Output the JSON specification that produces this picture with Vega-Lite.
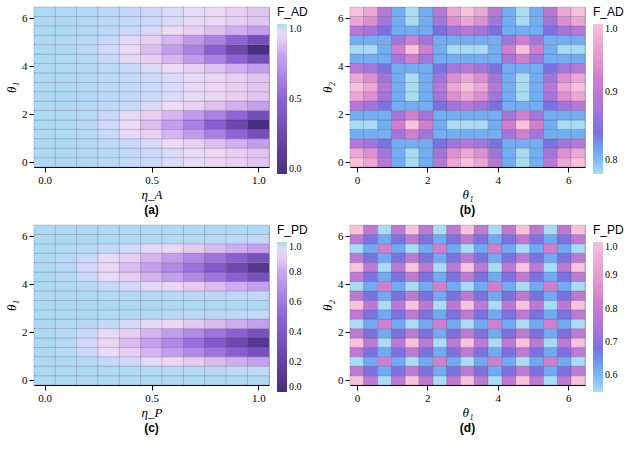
{
"$schema": "https://vega.github.io/schema/vega-lite/v6.json",
"background": "white",
"padding": 5,
"columns": 2,
"spacing": {"row": 6, "column": 12},
"datasets": {
"eta": [
{"h":0,"t":0,"a":1,"c":1},{"h":0,"t":0.39,"a":1,"c":1},{"h":0,"t":0.79,"a":1,"c":1},{"h":0,"t":1.18,"a":1,"c":1},{"h":0,"t":1.57,"a":1,"c":1},{"h":0,"t":1.96,"a":1,"c":1},{"h":0,"t":2.36,"a":1,"c":1},{"h":0,"t":2.75,"a":1,"c":1},{"h":0,"t":3.14,"a":1,"c":1},{"h":0,"t":3.53,"a":1,"c":1},{"h":0,"t":3.93,"a":1,"c":1},{"h":0,"t":4.32,"a":1,"c":1},{"h":0,"t":4.71,"a":1,"c":1},{"h":0,"t":5.11,"a":1,"c":1},{"h":0,"t":5.5,"a":1,"c":1},{"h":0,"t":5.89,"a":1,"c":1},{"h":0,"t":6.28,"a":1,"c":1},
{"h":0.1,"t":0,"a":0.999,"c":1},{"h":0.1,"t":0.39,"a":0.999,"c":1},{"h":0.1,"t":0.79,"a":0.999,"c":0.998},{"h":0.1,"t":1.18,"a":0.998,"c":0.993},{"h":0.1,"t":1.57,"a":0.998,"c":0.991},{"h":0.1,"t":1.96,"a":0.998,"c":0.993},{"h":0.1,"t":2.36,"a":0.999,"c":0.998},{"h":0.1,"t":2.75,"a":0.999,"c":1},{"h":0.1,"t":3.14,"a":0.999,"c":1},{"h":0.1,"t":3.53,"a":0.999,"c":1},{"h":0.1,"t":3.93,"a":0.999,"c":0.998},{"h":0.1,"t":4.32,"a":0.998,"c":0.993},{"h":0.1,"t":4.71,"a":0.998,"c":0.991},{"h":0.1,"t":5.11,"a":0.998,"c":0.993},{"h":0.1,"t":5.5,"a":0.999,"c":0.998},{"h":0.1,"t":5.89,"a":0.999,"c":1},{"h":0.1,"t":6.28,"a":0.999,"c":1},
{"h":0.2,"t":0,"a":0.995,"c":1},{"h":0.2,"t":0.39,"a":0.995,"c":0.999},{"h":0.2,"t":0.79,"a":0.994,"c":0.991},{"h":0.2,"t":1.18,"a":0.991,"c":0.974},{"h":0.2,"t":1.57,"a":0.988,"c":0.964},{"h":0.2,"t":1.96,"a":0.991,"c":0.974},{"h":0.2,"t":2.36,"a":0.994,"c":0.991},{"h":0.2,"t":2.75,"a":0.995,"c":0.999},{"h":0.2,"t":3.14,"a":0.995,"c":1},{"h":0.2,"t":3.53,"a":0.995,"c":0.999},{"h":0.2,"t":3.93,"a":0.994,"c":0.991},{"h":0.2,"t":4.32,"a":0.991,"c":0.974},{"h":0.2,"t":4.71,"a":0.988,"c":0.964},{"h":0.2,"t":5.11,"a":0.991,"c":0.974},{"h":0.2,"t":5.5,"a":0.994,"c":0.991},{"h":0.2,"t":5.89,"a":0.995,"c":0.999},{"h":0.2,"t":6.28,"a":0.995,"c":1},
{"h":0.3,"t":0,"a":0.989,"c":1},{"h":0.3,"t":0.39,"a":0.989,"c":0.998},{"h":0.3,"t":0.79,"a":0.986,"c":0.98},{"h":0.3,"t":1.18,"a":0.974,"c":0.941},{"h":0.3,"t":1.57,"a":0.965,"c":0.919},{"h":0.3,"t":1.96,"a":0.974,"c":0.941},{"h":0.3,"t":2.36,"a":0.986,"c":0.98},{"h":0.3,"t":2.75,"a":0.989,"c":0.998},{"h":0.3,"t":3.14,"a":0.989,"c":1},{"h":0.3,"t":3.53,"a":0.989,"c":0.998},{"h":0.3,"t":3.93,"a":0.986,"c":0.98},{"h":0.3,"t":4.32,"a":0.974,"c":0.941},{"h":0.3,"t":4.71,"a":0.965,"c":0.919},{"h":0.3,"t":5.11,"a":0.974,"c":0.941},{"h":0.3,"t":5.5,"a":0.986,"c":0.98},{"h":0.3,"t":5.89,"a":0.989,"c":0.998},{"h":0.3,"t":6.28,"a":0.989,"c":1},
{"h":0.4,"t":0,"a":0.981,"c":1},{"h":0.4,"t":0.39,"a":0.981,"c":0.997},{"h":0.4,"t":0.79,"a":0.974,"c":0.964},{"h":0.4,"t":1.18,"a":0.946,"c":0.895},{"h":0.4,"t":1.57,"a":0.925,"c":0.856},{"h":0.4,"t":1.96,"a":0.946,"c":0.895},{"h":0.4,"t":2.36,"a":0.974,"c":0.964},{"h":0.4,"t":2.75,"a":0.981,"c":0.997},{"h":0.4,"t":3.14,"a":0.981,"c":1},{"h":0.4,"t":3.53,"a":0.981,"c":0.997},{"h":0.4,"t":3.93,"a":0.974,"c":0.964},{"h":0.4,"t":4.32,"a":0.946,"c":0.895},{"h":0.4,"t":4.71,"a":0.925,"c":0.856},{"h":0.4,"t":5.11,"a":0.946,"c":0.895},{"h":0.4,"t":5.5,"a":0.974,"c":0.964},{"h":0.4,"t":5.89,"a":0.981,"c":0.997},{"h":0.4,"t":6.28,"a":0.981,"c":1},
{"h":0.5,"t":0,"a":0.97,"c":1},{"h":0.5,"t":0.39,"a":0.97,"c":0.995},{"h":0.5,"t":0.79,"a":0.956,"c":0.944},{"h":0.5,"t":1.18,"a":0.902,"c":0.836},{"h":0.5,"t":1.57,"a":0.86,"c":0.775},{"h":0.5,"t":1.96,"a":0.902,"c":0.836},{"h":0.5,"t":2.36,"a":0.956,"c":0.944},{"h":0.5,"t":2.75,"a":0.97,"c":0.995},{"h":0.5,"t":3.14,"a":0.97,"c":1},{"h":0.5,"t":3.53,"a":0.97,"c":0.995},{"h":0.5,"t":3.93,"a":0.956,"c":0.944},{"h":0.5,"t":4.32,"a":0.902,"c":0.836},{"h":0.5,"t":4.71,"a":0.86,"c":0.775},{"h":0.5,"t":5.11,"a":0.902,"c":0.836},{"h":0.5,"t":5.5,"a":0.956,"c":0.944},{"h":0.5,"t":5.89,"a":0.97,"c":0.995},{"h":0.5,"t":6.28,"a":0.97,"c":1},
{"h":0.6,"t":0,"a":0.957,"c":1},{"h":0.6,"t":0.39,"a":0.956,"c":0.993},{"h":0.6,"t":0.79,"a":0.933,"c":0.919},{"h":0.6,"t":1.18,"a":0.839,"c":0.764},{"h":0.6,"t":1.57,"a":0.767,"c":0.676},{"h":0.6,"t":1.96,"a":0.839,"c":0.764},{"h":0.6,"t":2.36,"a":0.933,"c":0.919},{"h":0.6,"t":2.75,"a":0.956,"c":0.993},{"h":0.6,"t":3.14,"a":0.957,"c":1},{"h":0.6,"t":3.53,"a":0.956,"c":0.993},{"h":0.6,"t":3.93,"a":0.933,"c":0.919},{"h":0.6,"t":4.32,"a":0.839,"c":0.764},{"h":0.6,"t":4.71,"a":0.767,"c":0.676},{"h":0.6,"t":5.11,"a":0.839,"c":0.764},{"h":0.6,"t":5.5,"a":0.933,"c":0.919},{"h":0.6,"t":5.89,"a":0.956,"c":0.993},{"h":0.6,"t":6.28,"a":0.957,"c":1},
{"h":0.7,"t":0,"a":0.941,"c":1},{"h":0.7,"t":0.39,"a":0.94,"c":0.991},{"h":0.7,"t":0.79,"a":0.904,"c":0.89},{"h":0.7,"t":1.18,"a":0.754,"c":0.679},{"h":0.7,"t":1.57,"a":0.639,"c":0.559},{"h":0.7,"t":1.96,"a":0.754,"c":0.679},{"h":0.7,"t":2.36,"a":0.904,"c":0.89},{"h":0.7,"t":2.75,"a":0.94,"c":0.991},{"h":0.7,"t":3.14,"a":0.941,"c":1},{"h":0.7,"t":3.53,"a":0.94,"c":0.991},{"h":0.7,"t":3.93,"a":0.904,"c":0.89},{"h":0.7,"t":4.32,"a":0.754,"c":0.679},{"h":0.7,"t":4.71,"a":0.639,"c":0.559},{"h":0.7,"t":5.11,"a":0.754,"c":0.679},{"h":0.7,"t":5.5,"a":0.904,"c":0.89},{"h":0.7,"t":5.89,"a":0.94,"c":0.991},{"h":0.7,"t":6.28,"a":0.941,"c":1},
{"h":0.8,"t":0,"a":0.923,"c":1},{"h":0.8,"t":0.39,"a":0.922,"c":0.988},{"h":0.8,"t":0.79,"a":0.867,"c":0.856},{"h":0.8,"t":1.18,"a":0.643,"c":0.58},{"h":0.8,"t":1.57,"a":0.473,"c":0.424},{"h":0.8,"t":1.96,"a":0.643,"c":0.58},{"h":0.8,"t":2.36,"a":0.867,"c":0.856},{"h":0.8,"t":2.75,"a":0.922,"c":0.988},{"h":0.8,"t":3.14,"a":0.923,"c":1},{"h":0.8,"t":3.53,"a":0.922,"c":0.988},{"h":0.8,"t":3.93,"a":0.867,"c":0.856},{"h":0.8,"t":4.32,"a":0.643,"c":0.58},{"h":0.8,"t":4.71,"a":0.473,"c":0.424},{"h":0.8,"t":5.11,"a":0.643,"c":0.58},{"h":0.8,"t":5.5,"a":0.867,"c":0.856},{"h":0.8,"t":5.89,"a":0.922,"c":0.988},{"h":0.8,"t":6.28,"a":0.923,"c":1},
{"h":0.9,"t":0,"a":0.903,"c":1},{"h":0.9,"t":0.39,"a":0.901,"c":0.985},{"h":0.9,"t":0.79,"a":0.823,"c":0.818},{"h":0.9,"t":1.18,"a":0.504,"c":0.469},{"h":0.9,"t":1.57,"a":0.261,"c":0.271},{"h":0.9,"t":1.96,"a":0.504,"c":0.469},{"h":0.9,"t":2.36,"a":0.823,"c":0.818},{"h":0.9,"t":2.75,"a":0.901,"c":0.985},{"h":0.9,"t":3.14,"a":0.903,"c":1},{"h":0.9,"t":3.53,"a":0.901,"c":0.985},{"h":0.9,"t":3.93,"a":0.823,"c":0.818},{"h":0.9,"t":4.32,"a":0.504,"c":0.469},{"h":0.9,"t":4.71,"a":0.261,"c":0.271},{"h":0.9,"t":5.11,"a":0.504,"c":0.469},{"h":0.9,"t":5.5,"a":0.823,"c":0.818},{"h":0.9,"t":5.89,"a":0.901,"c":0.985},{"h":0.9,"t":6.28,"a":0.903,"c":1},
{"h":1,"t":0,"a":0.88,"c":1},{"h":1,"t":0.39,"a":0.877,"c":0.981},{"h":1,"t":0.79,"a":0.77,"c":0.775},{"h":1,"t":1.18,"a":0.333,"c":0.344},{"h":1,"t":1.57,"a":0,"c":0.1},{"h":1,"t":1.96,"a":0.333,"c":0.344},{"h":1,"t":2.36,"a":0.77,"c":0.775},{"h":1,"t":2.75,"a":0.877,"c":0.981},{"h":1,"t":3.14,"a":0.88,"c":1},{"h":1,"t":3.53,"a":0.877,"c":0.981},{"h":1,"t":3.93,"a":0.77,"c":0.775},{"h":1,"t":4.32,"a":0.333,"c":0.344},{"h":1,"t":4.71,"a":0,"c":0.1},{"h":1,"t":5.11,"a":0.333,"c":0.344},{"h":1,"t":5.5,"a":0.77,"c":0.775},{"h":1,"t":5.89,"a":0.877,"c":0.981},{"h":1,"t":6.28,"a":0.88,"c":1}
],
"theta": [
{"x":0,"y":0,"b":1,"d":1},{"x":0.39,"y":0,"b":0.97,"d":0.78},{"x":0.79,"y":0,"b":0.89,"d":0.55},{"x":1.18,"y":0,"b":0.81,"d":0.78},{"x":1.57,"y":0,"b":0.78,"d":1},{"x":1.96,"y":0,"b":0.81,"d":0.78},{"x":2.36,"y":0,"b":0.89,"d":0.55},{"x":2.75,"y":0,"b":0.97,"d":0.78},{"x":3.14,"y":0,"b":1,"d":1},{"x":3.53,"y":0,"b":0.97,"d":0.78},{"x":3.93,"y":0,"b":0.89,"d":0.55},{"x":4.32,"y":0,"b":0.81,"d":0.78},{"x":4.71,"y":0,"b":0.78,"d":1},{"x":5.11,"y":0,"b":0.81,"d":0.78},{"x":5.5,"y":0,"b":0.89,"d":0.55},{"x":5.89,"y":0,"b":0.97,"d":0.78},{"x":6.28,"y":0,"b":1,"d":1},
{"x":0,"y":0.39,"b":0.97,"d":0.78},{"x":0.39,"y":0.39,"b":0.94,"d":0.68},{"x":0.79,"y":0.39,"b":0.87,"d":0.62},{"x":1.18,"y":0.39,"b":0.81,"d":0.68},{"x":1.57,"y":0.39,"b":0.78,"d":0.78},{"x":1.96,"y":0.39,"b":0.81,"d":0.68},{"x":2.36,"y":0.39,"b":0.87,"d":0.62},{"x":2.75,"y":0.39,"b":0.94,"d":0.68},{"x":3.14,"y":0.39,"b":0.97,"d":0.78},{"x":3.53,"y":0.39,"b":0.94,"d":0.68},{"x":3.93,"y":0.39,"b":0.87,"d":0.62},{"x":4.32,"y":0.39,"b":0.81,"d":0.68},{"x":4.71,"y":0.39,"b":0.78,"d":0.78},{"x":5.11,"y":0.39,"b":0.81,"d":0.68},{"x":5.5,"y":0.39,"b":0.87,"d":0.62},{"x":5.89,"y":0.39,"b":0.94,"d":0.68},{"x":6.28,"y":0.39,"b":0.97,"d":0.78},
{"x":0,"y":0.79,"b":0.89,"d":0.55},{"x":0.39,"y":0.79,"b":0.87,"d":0.62},{"x":0.79,"y":0.79,"b":0.84,"d":0.82},{"x":1.18,"y":0.79,"b":0.81,"d":0.62},{"x":1.57,"y":0.79,"b":0.81,"d":0.55},{"x":1.96,"y":0.79,"b":0.81,"d":0.62},{"x":2.36,"y":0.79,"b":0.84,"d":0.82},{"x":2.75,"y":0.79,"b":0.87,"d":0.62},{"x":3.14,"y":0.79,"b":0.89,"d":0.55},{"x":3.53,"y":0.79,"b":0.87,"d":0.62},{"x":3.93,"y":0.79,"b":0.84,"d":0.82},{"x":4.32,"y":0.79,"b":0.81,"d":0.62},{"x":4.71,"y":0.79,"b":0.81,"d":0.55},{"x":5.11,"y":0.79,"b":0.81,"d":0.62},{"x":5.5,"y":0.79,"b":0.84,"d":0.82},{"x":5.89,"y":0.79,"b":0.87,"d":0.62},{"x":6.28,"y":0.79,"b":0.89,"d":0.55},
{"x":0,"y":1.18,"b":0.81,"d":0.78},{"x":0.39,"y":1.18,"b":0.81,"d":0.68},{"x":0.79,"y":1.18,"b":0.81,"d":0.62},{"x":1.18,"y":1.18,"b":0.87,"d":0.68},{"x":1.57,"y":1.18,"b":0.92,"d":0.78},{"x":1.96,"y":1.18,"b":0.87,"d":0.68},{"x":2.36,"y":1.18,"b":0.81,"d":0.62},{"x":2.75,"y":1.18,"b":0.81,"d":0.68},{"x":3.14,"y":1.18,"b":0.81,"d":0.78},{"x":3.53,"y":1.18,"b":0.81,"d":0.68},{"x":3.93,"y":1.18,"b":0.81,"d":0.62},{"x":4.32,"y":1.18,"b":0.87,"d":0.68},{"x":4.71,"y":1.18,"b":0.92,"d":0.78},{"x":5.11,"y":1.18,"b":0.87,"d":0.68},{"x":5.5,"y":1.18,"b":0.81,"d":0.62},{"x":5.89,"y":1.18,"b":0.81,"d":0.68},{"x":6.28,"y":1.18,"b":0.81,"d":0.78},
{"x":0,"y":1.57,"b":0.78,"d":1},{"x":0.39,"y":1.57,"b":0.78,"d":0.78},{"x":0.79,"y":1.57,"b":0.81,"d":0.55},{"x":1.18,"y":1.57,"b":0.92,"d":0.78},{"x":1.57,"y":1.57,"b":1,"d":1},{"x":1.96,"y":1.57,"b":0.92,"d":0.78},{"x":2.36,"y":1.57,"b":0.81,"d":0.55},{"x":2.75,"y":1.57,"b":0.78,"d":0.78},{"x":3.14,"y":1.57,"b":0.78,"d":1},{"x":3.53,"y":1.57,"b":0.78,"d":0.78},{"x":3.93,"y":1.57,"b":0.81,"d":0.55},{"x":4.32,"y":1.57,"b":0.92,"d":0.78},{"x":4.71,"y":1.57,"b":1,"d":1},{"x":5.11,"y":1.57,"b":0.92,"d":0.78},{"x":5.5,"y":1.57,"b":0.81,"d":0.55},{"x":5.89,"y":1.57,"b":0.78,"d":0.78},{"x":6.28,"y":1.57,"b":0.78,"d":1},
{"x":0,"y":1.96,"b":0.81,"d":0.78},{"x":0.39,"y":1.96,"b":0.81,"d":0.68},{"x":0.79,"y":1.96,"b":0.81,"d":0.62},{"x":1.18,"y":1.96,"b":0.87,"d":0.68},{"x":1.57,"y":1.96,"b":0.92,"d":0.78},{"x":1.96,"y":1.96,"b":0.87,"d":0.68},{"x":2.36,"y":1.96,"b":0.81,"d":0.62},{"x":2.75,"y":1.96,"b":0.81,"d":0.68},{"x":3.14,"y":1.96,"b":0.81,"d":0.78},{"x":3.53,"y":1.96,"b":0.81,"d":0.68},{"x":3.93,"y":1.96,"b":0.81,"d":0.62},{"x":4.32,"y":1.96,"b":0.87,"d":0.68},{"x":4.71,"y":1.96,"b":0.92,"d":0.78},{"x":5.11,"y":1.96,"b":0.87,"d":0.68},{"x":5.5,"y":1.96,"b":0.81,"d":0.62},{"x":5.89,"y":1.96,"b":0.81,"d":0.68},{"x":6.28,"y":1.96,"b":0.81,"d":0.78},
{"x":0,"y":2.36,"b":0.89,"d":0.55},{"x":0.39,"y":2.36,"b":0.87,"d":0.62},{"x":0.79,"y":2.36,"b":0.84,"d":0.82},{"x":1.18,"y":2.36,"b":0.81,"d":0.62},{"x":1.57,"y":2.36,"b":0.81,"d":0.55},{"x":1.96,"y":2.36,"b":0.81,"d":0.62},{"x":2.36,"y":2.36,"b":0.84,"d":0.82},{"x":2.75,"y":2.36,"b":0.87,"d":0.62},{"x":3.14,"y":2.36,"b":0.89,"d":0.55},{"x":3.53,"y":2.36,"b":0.87,"d":0.62},{"x":3.93,"y":2.36,"b":0.84,"d":0.82},{"x":4.32,"y":2.36,"b":0.81,"d":0.62},{"x":4.71,"y":2.36,"b":0.81,"d":0.55},{"x":5.11,"y":2.36,"b":0.81,"d":0.62},{"x":5.5,"y":2.36,"b":0.84,"d":0.82},{"x":5.89,"y":2.36,"b":0.87,"d":0.62},{"x":6.28,"y":2.36,"b":0.89,"d":0.55},
{"x":0,"y":2.75,"b":0.97,"d":0.78},{"x":0.39,"y":2.75,"b":0.94,"d":0.68},{"x":0.79,"y":2.75,"b":0.87,"d":0.62},{"x":1.18,"y":2.75,"b":0.81,"d":0.68},{"x":1.57,"y":2.75,"b":0.78,"d":0.78},{"x":1.96,"y":2.75,"b":0.81,"d":0.68},{"x":2.36,"y":2.75,"b":0.87,"d":0.62},{"x":2.75,"y":2.75,"b":0.94,"d":0.68},{"x":3.14,"y":2.75,"b":0.97,"d":0.78},{"x":3.53,"y":2.75,"b":0.94,"d":0.68},{"x":3.93,"y":2.75,"b":0.87,"d":0.62},{"x":4.32,"y":2.75,"b":0.81,"d":0.68},{"x":4.71,"y":2.75,"b":0.78,"d":0.78},{"x":5.11,"y":2.75,"b":0.81,"d":0.68},{"x":5.5,"y":2.75,"b":0.87,"d":0.62},{"x":5.89,"y":2.75,"b":0.94,"d":0.68},{"x":6.28,"y":2.75,"b":0.97,"d":0.78},
{"x":0,"y":3.14,"b":1,"d":1},{"x":0.39,"y":3.14,"b":0.97,"d":0.78},{"x":0.79,"y":3.14,"b":0.89,"d":0.55},{"x":1.18,"y":3.14,"b":0.81,"d":0.78},{"x":1.57,"y":3.14,"b":0.78,"d":1},{"x":1.96,"y":3.14,"b":0.81,"d":0.78},{"x":2.36,"y":3.14,"b":0.89,"d":0.55},{"x":2.75,"y":3.14,"b":0.97,"d":0.78},{"x":3.14,"y":3.14,"b":1,"d":1},{"x":3.53,"y":3.14,"b":0.97,"d":0.78},{"x":3.93,"y":3.14,"b":0.89,"d":0.55},{"x":4.32,"y":3.14,"b":0.81,"d":0.78},{"x":4.71,"y":3.14,"b":0.78,"d":1},{"x":5.11,"y":3.14,"b":0.81,"d":0.78},{"x":5.5,"y":3.14,"b":0.89,"d":0.55},{"x":5.89,"y":3.14,"b":0.97,"d":0.78},{"x":6.28,"y":3.14,"b":1,"d":1},
{"x":0,"y":3.53,"b":0.97,"d":0.78},{"x":0.39,"y":3.53,"b":0.94,"d":0.68},{"x":0.79,"y":3.53,"b":0.87,"d":0.62},{"x":1.18,"y":3.53,"b":0.81,"d":0.68},{"x":1.57,"y":3.53,"b":0.78,"d":0.78},{"x":1.96,"y":3.53,"b":0.81,"d":0.68},{"x":2.36,"y":3.53,"b":0.87,"d":0.62},{"x":2.75,"y":3.53,"b":0.94,"d":0.68},{"x":3.14,"y":3.53,"b":0.97,"d":0.78},{"x":3.53,"y":3.53,"b":0.94,"d":0.68},{"x":3.93,"y":3.53,"b":0.87,"d":0.62},{"x":4.32,"y":3.53,"b":0.81,"d":0.68},{"x":4.71,"y":3.53,"b":0.78,"d":0.78},{"x":5.11,"y":3.53,"b":0.81,"d":0.68},{"x":5.5,"y":3.53,"b":0.87,"d":0.62},{"x":5.89,"y":3.53,"b":0.94,"d":0.68},{"x":6.28,"y":3.53,"b":0.97,"d":0.78},
{"x":0,"y":3.93,"b":0.89,"d":0.55},{"x":0.39,"y":3.93,"b":0.87,"d":0.62},{"x":0.79,"y":3.93,"b":0.84,"d":0.82},{"x":1.18,"y":3.93,"b":0.81,"d":0.62},{"x":1.57,"y":3.93,"b":0.81,"d":0.55},{"x":1.96,"y":3.93,"b":0.81,"d":0.62},{"x":2.36,"y":3.93,"b":0.84,"d":0.82},{"x":2.75,"y":3.93,"b":0.87,"d":0.62},{"x":3.14,"y":3.93,"b":0.89,"d":0.55},{"x":3.53,"y":3.93,"b":0.87,"d":0.62},{"x":3.93,"y":3.93,"b":0.84,"d":0.82},{"x":4.32,"y":3.93,"b":0.81,"d":0.62},{"x":4.71,"y":3.93,"b":0.81,"d":0.55},{"x":5.11,"y":3.93,"b":0.81,"d":0.62},{"x":5.5,"y":3.93,"b":0.84,"d":0.82},{"x":5.89,"y":3.93,"b":0.87,"d":0.62},{"x":6.28,"y":3.93,"b":0.89,"d":0.55},
{"x":0,"y":4.32,"b":0.81,"d":0.78},{"x":0.39,"y":4.32,"b":0.81,"d":0.68},{"x":0.79,"y":4.32,"b":0.81,"d":0.62},{"x":1.18,"y":4.32,"b":0.87,"d":0.68},{"x":1.57,"y":4.32,"b":0.92,"d":0.78},{"x":1.96,"y":4.32,"b":0.87,"d":0.68},{"x":2.36,"y":4.32,"b":0.81,"d":0.62},{"x":2.75,"y":4.32,"b":0.81,"d":0.68},{"x":3.14,"y":4.32,"b":0.81,"d":0.78},{"x":3.53,"y":4.32,"b":0.81,"d":0.68},{"x":3.93,"y":4.32,"b":0.81,"d":0.62},{"x":4.32,"y":4.32,"b":0.87,"d":0.68},{"x":4.71,"y":4.32,"b":0.92,"d":0.78},{"x":5.11,"y":4.32,"b":0.87,"d":0.68},{"x":5.5,"y":4.32,"b":0.81,"d":0.62},{"x":5.89,"y":4.32,"b":0.81,"d":0.68},{"x":6.28,"y":4.32,"b":0.81,"d":0.78},
{"x":0,"y":4.71,"b":0.78,"d":1},{"x":0.39,"y":4.71,"b":0.78,"d":0.78},{"x":0.79,"y":4.71,"b":0.81,"d":0.55},{"x":1.18,"y":4.71,"b":0.92,"d":0.78},{"x":1.57,"y":4.71,"b":1,"d":1},{"x":1.96,"y":4.71,"b":0.92,"d":0.78},{"x":2.36,"y":4.71,"b":0.81,"d":0.55},{"x":2.75,"y":4.71,"b":0.78,"d":0.78},{"x":3.14,"y":4.71,"b":0.78,"d":1},{"x":3.53,"y":4.71,"b":0.78,"d":0.78},{"x":3.93,"y":4.71,"b":0.81,"d":0.55},{"x":4.32,"y":4.71,"b":0.92,"d":0.78},{"x":4.71,"y":4.71,"b":1,"d":1},{"x":5.11,"y":4.71,"b":0.92,"d":0.78},{"x":5.5,"y":4.71,"b":0.81,"d":0.55},{"x":5.89,"y":4.71,"b":0.78,"d":0.78},{"x":6.28,"y":4.71,"b":0.78,"d":1},
{"x":0,"y":5.11,"b":0.81,"d":0.78},{"x":0.39,"y":5.11,"b":0.81,"d":0.68},{"x":0.79,"y":5.11,"b":0.81,"d":0.62},{"x":1.18,"y":5.11,"b":0.87,"d":0.68},{"x":1.57,"y":5.11,"b":0.92,"d":0.78},{"x":1.96,"y":5.11,"b":0.87,"d":0.68},{"x":2.36,"y":5.11,"b":0.81,"d":0.62},{"x":2.75,"y":5.11,"b":0.81,"d":0.68},{"x":3.14,"y":5.11,"b":0.81,"d":0.78},{"x":3.53,"y":5.11,"b":0.81,"d":0.68},{"x":3.93,"y":5.11,"b":0.81,"d":0.62},{"x":4.32,"y":5.11,"b":0.87,"d":0.68},{"x":4.71,"y":5.11,"b":0.92,"d":0.78},{"x":5.11,"y":5.11,"b":0.87,"d":0.68},{"x":5.5,"y":5.11,"b":0.81,"d":0.62},{"x":5.89,"y":5.11,"b":0.81,"d":0.68},{"x":6.28,"y":5.11,"b":0.81,"d":0.78},
{"x":0,"y":5.5,"b":0.89,"d":0.55},{"x":0.39,"y":5.5,"b":0.87,"d":0.62},{"x":0.79,"y":5.5,"b":0.84,"d":0.82},{"x":1.18,"y":5.5,"b":0.81,"d":0.62},{"x":1.57,"y":5.5,"b":0.81,"d":0.55},{"x":1.96,"y":5.5,"b":0.81,"d":0.62},{"x":2.36,"y":5.5,"b":0.84,"d":0.82},{"x":2.75,"y":5.5,"b":0.87,"d":0.62},{"x":3.14,"y":5.5,"b":0.89,"d":0.55},{"x":3.53,"y":5.5,"b":0.87,"d":0.62},{"x":3.93,"y":5.5,"b":0.84,"d":0.82},{"x":4.32,"y":5.5,"b":0.81,"d":0.62},{"x":4.71,"y":5.5,"b":0.81,"d":0.55},{"x":5.11,"y":5.5,"b":0.81,"d":0.62},{"x":5.5,"y":5.5,"b":0.84,"d":0.82},{"x":5.89,"y":5.5,"b":0.87,"d":0.62},{"x":6.28,"y":5.5,"b":0.89,"d":0.55},
{"x":0,"y":5.89,"b":0.97,"d":0.78},{"x":0.39,"y":5.89,"b":0.94,"d":0.68},{"x":0.79,"y":5.89,"b":0.87,"d":0.62},{"x":1.18,"y":5.89,"b":0.81,"d":0.68},{"x":1.57,"y":5.89,"b":0.78,"d":0.78},{"x":1.96,"y":5.89,"b":0.81,"d":0.68},{"x":2.36,"y":5.89,"b":0.87,"d":0.62},{"x":2.75,"y":5.89,"b":0.94,"d":0.68},{"x":3.14,"y":5.89,"b":0.97,"d":0.78},{"x":3.53,"y":5.89,"b":0.94,"d":0.68},{"x":3.93,"y":5.89,"b":0.87,"d":0.62},{"x":4.32,"y":5.89,"b":0.81,"d":0.68},{"x":4.71,"y":5.89,"b":0.78,"d":0.78},{"x":5.11,"y":5.89,"b":0.81,"d":0.68},{"x":5.5,"y":5.89,"b":0.87,"d":0.62},{"x":5.89,"y":5.89,"b":0.94,"d":0.68},{"x":6.28,"y":5.89,"b":0.97,"d":0.78},
{"x":0,"y":6.28,"b":1,"d":1},{"x":0.39,"y":6.28,"b":0.97,"d":0.78},{"x":0.79,"y":6.28,"b":0.89,"d":0.55},{"x":1.18,"y":6.28,"b":0.81,"d":0.78},{"x":1.57,"y":6.28,"b":0.78,"d":1},{"x":1.96,"y":6.28,"b":0.81,"d":0.78},{"x":2.36,"y":6.28,"b":0.89,"d":0.55},{"x":2.75,"y":6.28,"b":0.97,"d":0.78},{"x":3.14,"y":6.28,"b":1,"d":1},{"x":3.53,"y":6.28,"b":0.97,"d":0.78},{"x":3.93,"y":6.28,"b":0.89,"d":0.55},{"x":4.32,"y":6.28,"b":0.81,"d":0.78},{"x":4.71,"y":6.28,"b":0.78,"d":1},{"x":5.11,"y":6.28,"b":0.81,"d":0.78},{"x":5.5,"y":6.28,"b":0.89,"d":0.55},{"x":5.89,"y":6.28,"b":0.97,"d":0.78},{"x":6.28,"y":6.28,"b":1,"d":1}
]
},
"concat": [
{
"data": {"name": "eta"},
"width": 235, "height": 160,
"title": {"text": "(a)", "orient": "bottom"},
"mark": {"type": "point", "filled": true, "shape": "M-1,-0.44H1V0.44H-1Z", "size": 462, "opacity": 1, "stroke": "#3d3550", "strokeWidth": 0.35, "strokeOpacity": 0.55},
"encoding": {
"x": {"field": "h", "type": "quantitative", "scale": {"domain": [-0.05, 1.05], "nice": false, "zero": false}, "axis": {"title": "η_A", "values": [0, 0.5, 1], "format": ".1f"}},
"y": {"field": "t", "type": "quantitative", "scale": {"domain": [-0.196, 6.479], "nice": false, "zero": false}, "axis": {"title": "θ₁", "values": [0, 2, 4, 6]}},
"color": {"field": "a", "type": "quantitative", "scale": {"domain": [0, 0.5, 0.8, 0.93, 1], "range": ["#4a2e80", "#8d62d8", "#c9a6f0", "#eedcf4", "#aed9f3"]}, "legend": {"title": "F_AD", "values": [0, 0.5, 1], "format": ".1f"}}
}
},
{
"data": {"name": "theta"},
"width": 235, "height": 160,
"title": {"text": "(b)", "orient": "bottom"},
"mark": {"type": "point", "filled": true, "shape": "M-1,-0.68H1V0.68H-1Z", "size": 195, "opacity": 1, "stroke": "#3d3550", "strokeWidth": 0.35, "strokeOpacity": 0.55},
"encoding": {
"x": {"field": "x", "type": "quantitative", "scale": {"domain": [-0.196, 6.479], "nice": false, "zero": false}, "axis": {"title": "θ₁", "values": [0, 2, 4, 6]}},
"y": {"field": "y", "type": "quantitative", "scale": {"domain": [-0.196, 6.479], "nice": false, "zero": false}, "axis": {"title": "θ₂", "values": [0, 2, 4, 6]}},
"color": {"field": "b", "type": "quantitative", "scale": {"domain": [0.78, 0.84, 0.92, 1], "range": ["#a9dcf3", "#7b72e0", "#d07fcf", "#f6c2dc"]}, "legend": {"title": "F_AD", "values": [0.8, 0.9, 1], "format": ".1f"}}
}
},
{
"data": {"name": "eta"},
"width": 235, "height": 160,
"title": {"text": "(c)", "orient": "bottom"},
"mark": {"type": "point", "filled": true, "shape": "M-1,-0.44H1V0.44H-1Z", "size": 462, "opacity": 1, "stroke": "#3d3550", "strokeWidth": 0.35, "strokeOpacity": 0.55},
"encoding": {
"x": {"field": "h", "type": "quantitative", "scale": {"domain": [-0.05, 1.05], "nice": false, "zero": false}, "axis": {"title": "η_P", "values": [0, 0.5, 1], "format": ".1f"}},
"y": {"field": "t", "type": "quantitative", "scale": {"domain": [-0.196, 6.479], "nice": false, "zero": false}, "axis": {"title": "θ₁", "values": [0, 2, 4, 6]}},
"color": {"field": "c", "type": "quantitative", "scale": {"domain": [0, 0.5, 0.8, 0.93, 1], "range": ["#4a2e80", "#8d62d8", "#c9a6f0", "#eedcf4", "#aed9f3"]}, "legend": {"title": "F_PD", "values": [0, 0.2, 0.4, 0.6, 0.8, 1], "format": ".1f"}}
}
},
{
"data": {"name": "theta"},
"width": 235, "height": 160,
"title": {"text": "(d)", "orient": "bottom"},
"mark": {"type": "point", "filled": true, "shape": "M-1,-0.68H1V0.68H-1Z", "size": 195, "opacity": 1, "stroke": "#3d3550", "strokeWidth": 0.35, "strokeOpacity": 0.55},
"encoding": {
"x": {"field": "x", "type": "quantitative", "scale": {"domain": [-0.196, 6.479], "nice": false, "zero": false}, "axis": {"title": "θ₁", "values": [0, 2, 4, 6]}},
"y": {"field": "y", "type": "quantitative", "scale": {"domain": [-0.196, 6.479], "nice": false, "zero": false}, "axis": {"title": "θ₂", "values": [0, 2, 4, 6]}},
"color": {"field": "d", "type": "quantitative", "scale": {"domain": [0.55, 0.68, 0.82, 1], "range": ["#a9dcf3", "#7b72e0", "#d07fcf", "#f6c2dc"]}, "legend": {"title": "F_PD", "values": [0.6, 0.7, 0.8, 0.9, 1], "format": ".1f"}}
}
}
],
"resolve": {"scale": {"color": "independent", "x": "independent", "y": "independent"}},
"config": {
"view": {"stroke": "#bbbbbb"},
"axis": {"grid": false, "labelFont": "Liberation Serif", "labelFontSize": 11, "labelColor": "#000000", "titleFont": "Liberation Serif", "titleFontSize": 13, "titleFontWeight": "normal", "titleFontStyle": "italic", "titleColor": "#000000", "domainColor": "#000000", "tickColor": "#000000", "titlePadding": 3},
"legend": {"titleFont": "Liberation Sans", "titleFontSize": 12, "titleFontWeight": "normal", "titleColor": "#000000", "labelFont": "Liberation Serif", "labelFontSize": 10, "labelColor": "#000000", "gradientLength": 150, "gradientThickness": 10, "offset": 8},
"title": {"font": "Liberation Sans", "fontSize": 12, "fontWeight": "bold", "color": "#000000", "offset": 4}
}
}
